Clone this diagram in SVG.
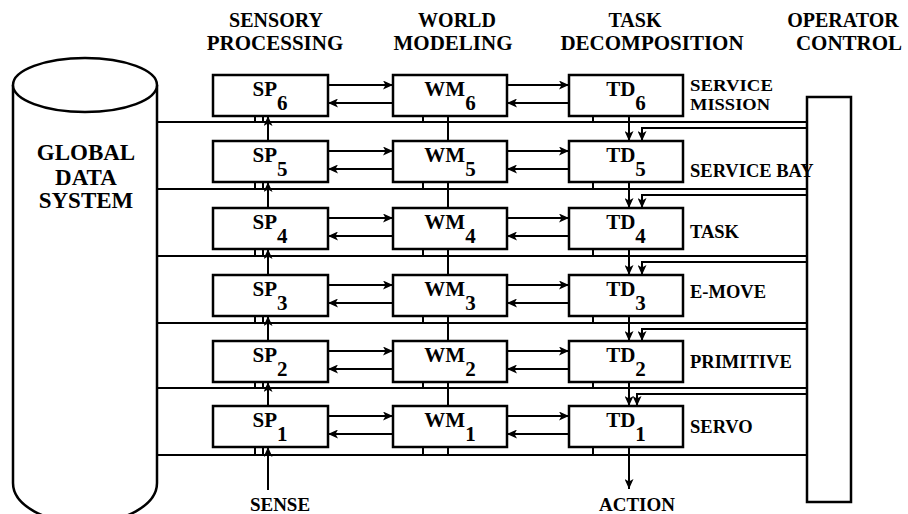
<svg xmlns="http://www.w3.org/2000/svg" width="908" height="514" viewBox="0 0 908 514">
<defs>
<style>
text{font-family:"Liberation Serif","Times New Roman",serif;font-weight:bold;fill:#000}
.box{fill:#fff;stroke:#000;stroke-width:2.5}
.ln{fill:none;stroke:#000;stroke-width:2}
.hd{font-size:21px;text-anchor:middle}
.h1{font-size:20px;text-anchor:middle}
.gd{font-size:23px;text-anchor:middle}
.bl{font-size:21px;text-anchor:middle}
.rl{font-size:18.5px}
.rs{font-size:17px}
.io{font-size:19px;text-anchor:middle}
.ar{marker-end:url(#ah)}
</style>
<marker id="ah" markerUnits="userSpaceOnUse" markerWidth="10" markerHeight="9" refX="10" refY="4.5" orient="auto">
<path d="M0,0 L10,4.5 L0,9 L2.5,4.5 z" fill="#000"/>
</marker>
</defs>
<rect width="908" height="514" fill="#fff"/>

<g id="headers">
<text class="h1" x="276" y="27">SENSORY</text>
<text class="hd" x="275" y="50">PROCESSING</text>
<text class="h1" x="457" y="27">WORLD</text>
<text class="hd" x="453" y="50">MODELING</text>
<text class="h1" x="635" y="27">TASK</text>
<text class="hd" x="652" y="50">DECOMPOSITION</text>
<text class="h1" x="843" y="27">OPERATOR</text>
<text class="hd" x="849" y="50">CONTROL</text>
</g>

<g id="global-data-system">
<path class="box" d="M13,85 L13,483 A72,40 0 0 0 157,483 L157,85"/>
<ellipse class="box" cx="85" cy="85" rx="72" ry="27"/>
<text class="gd" x="86" y="160">GLOBAL</text>
<text class="gd" x="86" y="185">DATA</text>
<text class="gd" x="86" y="208">SYSTEM</text>
</g>

<g id="operator-control">
<rect class="box" x="807" y="97" width="44" height="405"/>
</g>

<g id="connectors">
<path class="ln" d="M157,122 H807 M157,189 H807 M157,256 H807 M157,323 H807 M157,388 H807 M157,455 H807"/>
<path class="ln" d="M255,116 V122 M263,116 V122 M423,116 V122 M593,116 V122
M255,182 V189 M263,182 V189 M423,182 V189 M593,182 V189
M255,249 V256 M263,249 V256 M423,249 V256 M593,249 V256
M255,316 V323 M263,316 V323 M423,316 V323 M593,316 V323
M255,382 V388 M263,382 V388 M423,382 V388 M593,382 V388
M255,447 V455 M263,447 V455 M423,447 V455 M593,447 V455 M448,447 V455"/>
<path class="ln" d="M448,116 V141 M448,182 V208 M448,249 V275 M448,316 V341 M448,382 V406"/>
<path class="ln ar" d="M268,141 V116"/>
<path class="ln ar" d="M268,208 V182"/>
<path class="ln ar" d="M268,275 V249"/>
<path class="ln ar" d="M268,341 V316"/>
<path class="ln ar" d="M268,406 V382"/>
<path class="ln ar" d="M268,490 V447"/>
<path class="ln ar" d="M629,116 V141"/>
<path class="ln ar" d="M629,182 V208"/>
<path class="ln ar" d="M629,249 V275"/>
<path class="ln ar" d="M629,316 V341"/>
<path class="ln ar" d="M629,382 V406"/>
<path class="ln ar" d="M629,447 V489"/>
<path class="ln ar" d="M807,128 H642 V141"/>
<path class="ln ar" d="M807,195 H642 V208"/>
<path class="ln ar" d="M807,262 H642 V275"/>
<path class="ln ar" d="M807,329 H642 V341"/>
<path class="ln ar" d="M807,394 H637 V406"/>
<path class="ln ar" d="M328,85 H393"/><path class="ln ar" d="M393,103 H328"/>
<path class="ln ar" d="M507,85 H569"/><path class="ln ar" d="M569,103 H507"/>
<path class="ln ar" d="M328,151 H393"/><path class="ln ar" d="M393,169 H328"/>
<path class="ln ar" d="M507,151 H569"/><path class="ln ar" d="M569,169 H507"/>
<path class="ln ar" d="M328,218 H393"/><path class="ln ar" d="M393,236 H328"/>
<path class="ln ar" d="M507,218 H569"/><path class="ln ar" d="M569,236 H507"/>
<path class="ln ar" d="M328,285 H393"/><path class="ln ar" d="M393,303 H328"/>
<path class="ln ar" d="M507,285 H569"/><path class="ln ar" d="M569,303 H507"/>
<path class="ln ar" d="M328,351 H393"/><path class="ln ar" d="M393,369 H328"/>
<path class="ln ar" d="M507,351 H569"/><path class="ln ar" d="M569,369 H507"/>
<path class="ln ar" d="M328,416 H393"/><path class="ln ar" d="M393,434 H328"/>
<path class="ln ar" d="M507,416 H569"/><path class="ln ar" d="M569,434 H507"/>
</g>

<g id="sp6"><rect class="box" x="213" y="75" width="115" height="41"/><text class="bl" x="270" y="96">SP<tspan dy="14">6</tspan></text></g>
<g id="sp5"><rect class="box" x="213" y="141" width="115" height="41"/><text class="bl" x="270" y="162">SP<tspan dy="14">5</tspan></text></g>
<g id="sp4"><rect class="box" x="213" y="208" width="115" height="41"/><text class="bl" x="270" y="229">SP<tspan dy="14">4</tspan></text></g>
<g id="sp3"><rect class="box" x="213" y="275" width="115" height="41"/><text class="bl" x="270" y="296">SP<tspan dy="14">3</tspan></text></g>
<g id="sp2"><rect class="box" x="213" y="341" width="115" height="41"/><text class="bl" x="270" y="362">SP<tspan dy="14">2</tspan></text></g>
<g id="sp1"><rect class="box" x="213" y="406" width="115" height="41"/><text class="bl" x="270" y="427">SP<tspan dy="14">1</tspan></text></g>

<g id="wm6"><rect class="box" x="393" y="75" width="114" height="41"/><text class="bl" x="450" y="96">WM<tspan dy="14">6</tspan></text></g>
<g id="wm5"><rect class="box" x="393" y="141" width="114" height="41"/><text class="bl" x="450" y="162">WM<tspan dy="14">5</tspan></text></g>
<g id="wm4"><rect class="box" x="393" y="208" width="114" height="41"/><text class="bl" x="450" y="229">WM<tspan dy="14">4</tspan></text></g>
<g id="wm3"><rect class="box" x="393" y="275" width="114" height="41"/><text class="bl" x="450" y="296">WM<tspan dy="14">3</tspan></text></g>
<g id="wm2"><rect class="box" x="393" y="341" width="114" height="41"/><text class="bl" x="450" y="362">WM<tspan dy="14">2</tspan></text></g>
<g id="wm1"><rect class="box" x="393" y="406" width="114" height="41"/><text class="bl" x="450" y="427">WM<tspan dy="14">1</tspan></text></g>

<g id="td6"><rect class="box" x="569" y="75" width="114" height="41"/><text class="bl" x="626" y="96">TD<tspan dy="14">6</tspan></text></g>
<g id="td5"><rect class="box" x="569" y="141" width="114" height="41"/><text class="bl" x="626" y="162">TD<tspan dy="14">5</tspan></text></g>
<g id="td4"><rect class="box" x="569" y="208" width="114" height="41"/><text class="bl" x="626" y="229">TD<tspan dy="14">4</tspan></text></g>
<g id="td3"><rect class="box" x="569" y="275" width="114" height="41"/><text class="bl" x="626" y="296">TD<tspan dy="14">3</tspan></text></g>
<g id="td2"><rect class="box" x="569" y="341" width="114" height="41"/><text class="bl" x="626" y="362">TD<tspan dy="14">2</tspan></text></g>
<g id="td1"><rect class="box" x="569" y="406" width="114" height="41"/><text class="bl" x="626" y="427">TD<tspan dy="14">1</tspan></text></g>

<g id="level-labels">
<text class="rs" x="690" y="91" textLength="83" lengthAdjust="spacingAndGlyphs">SERVICE</text>
<text class="rs" x="690" y="110" textLength="80" lengthAdjust="spacingAndGlyphs">MISSION</text>
<text class="rl" x="690" y="177">SERVICE BAY</text>
<text class="rl" x="690" y="238">TASK</text>
<text class="rl" x="690" y="298">E-MOVE</text>
<text class="rl" x="690" y="368">PRIMITIVE</text>
<text class="rl" x="690" y="433">SERVO</text>
</g>

<g id="io-labels">
<text class="io" x="280" y="511">SENSE</text>
<text class="io" x="637" y="511">ACTION</text>
</g>
</svg>
